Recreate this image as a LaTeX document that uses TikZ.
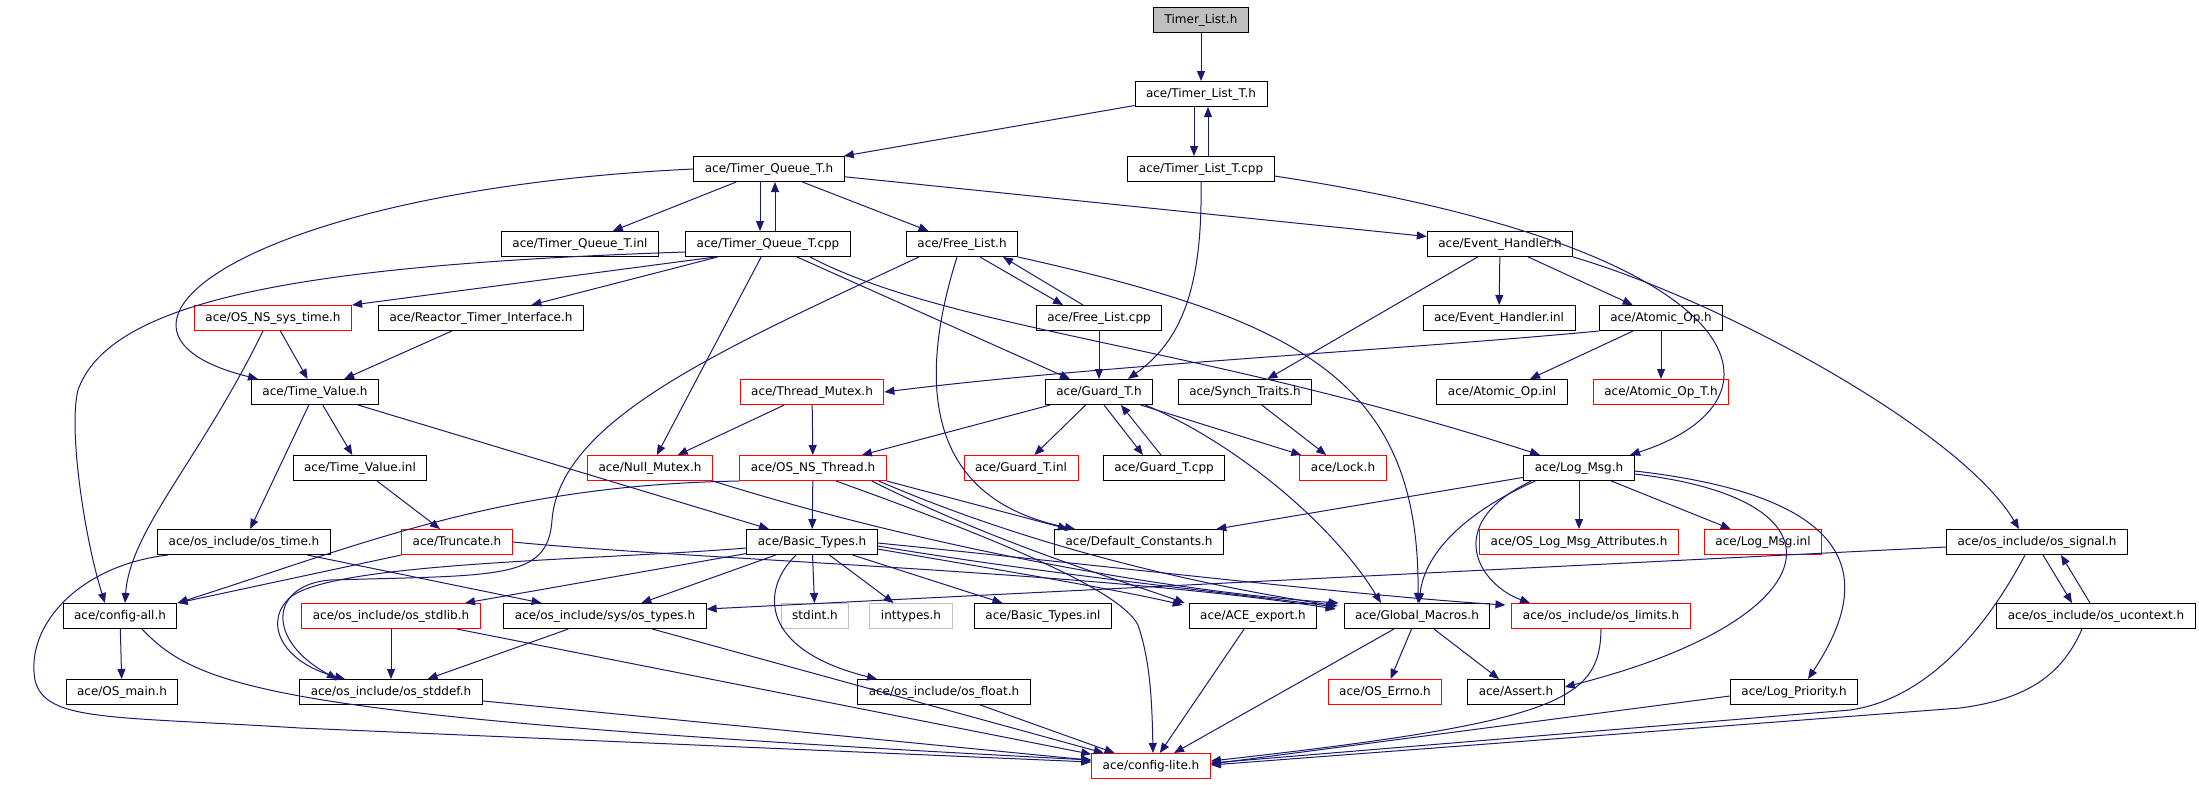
\documentclass[tikz,border=0pt]{standalone}
\usepackage{fontspec}
\setmainfont{DejaVu Sans}
\usetikzlibrary{arrows.meta,calc}
\definecolor{edgeblue}{HTML}{191970}
\definecolor{sysgray}{HTML}{BFBFBF}
\tikzset{
  file/.style={draw=black, line width=0.5pt, inner xsep=5.5pt, inner ysep=0pt,
    minimum height=12.5pt, text height=4.6pt, text depth=1.4pt,
    font=\fontsize{6pt}{7pt}\selectfont},
  cutfile/.style={file, draw=red},
  sysfile/.style={file, draw=sysgray},
  rootfile/.style={file, fill=sysgray},
  dep/.style={draw=edgeblue, line width=0.5pt, -{Triangle[length=5pt,width=4pt]}}
}
\begin{document}
\begin{tikzpicture}[x=0.5pt, y=-0.5pt]
\useasboundingbox (0,0) rectangle (2199,784);
% files, row by row
\node[rootfile] (tl) at (1201,20) {Timer\_List.h};
\node[file] (tlth) at (1201,94) {ace/Timer\_List\_T.h};
\node[file] (tqth) at (769,169) {ace/Timer\_Queue\_T.h};
\node[file] (tltcpp) at (1201,169) {ace/Timer\_List\_T.cpp};
\node[file] (tqtinl) at (580,244) {ace/Timer\_Queue\_T.inl};
\node[file] (tqtcpp) at (768,244) {ace/Timer\_Queue\_T.cpp};
\node[file] (flh) at (962,244) {ace/Free\_List.h};
\node[file] (ehh) at (1500,244) {ace/Event\_Handler.h};
\node[cutfile] (nssys) at (273,318) {ace/OS\_NS\_sys\_time.h};
\node[file] (rti) at (481,318) {ace/Reactor\_Timer\_Interface.h};
\node[file] (flcpp) at (1099,318) {ace/Free\_List.cpp};
\node[file] (ehinl) at (1499,318) {ace/Event\_Handler.inl};
\node[file] (aoh) at (1661,318) {ace/Atomic\_Op.h};
\node[file] (tvh) at (315,392) {ace/Time\_Value.h};
\node[cutfile] (tmh) at (812,392) {ace/Thread\_Mutex.h};
\node[file] (gth) at (1099,392) {ace/Guard\_T.h};
\node[file] (sth) at (1245,392) {ace/Synch\_Traits.h};
\node[file] (aoinl) at (1502,392) {ace/Atomic\_Op.inl};
\node[cutfile] (aoth) at (1661,392) {ace/Atomic\_Op\_T.h};
\node[file] (tvinl) at (360,468) {ace/Time\_Value.inl};
\node[cutfile] (nmh) at (650,468) {ace/Null\_Mutex.h};
\node[cutfile] (nsth) at (813,468) {ace/OS\_NS\_Thread.h};
\node[cutfile] (gtinl) at (1021,468) {ace/Guard\_T.inl};
\node[file] (gtcpp) at (1164,468) {ace/Guard\_T.cpp};
\node[cutfile] (lockh) at (1343,468) {ace/Lock.h};
\node[file] (lmh) at (1579,468) {ace/Log\_Msg.h};
\node[file] (ostime) at (244,542) {ace/os\_include/os\_time.h};
\node[cutfile] (trunc) at (457,542) {ace/Truncate.h};
\node[file] (bth) at (812,542) {ace/Basic\_Types.h};
\node[file] (dch) at (1139,542) {ace/Default\_Constants.h};
\node[cutfile] (olma) at (1579,542) {ace/OS\_Log\_Msg\_Attributes.h};
\node[cutfile] (lminl) at (1763,542) {ace/Log\_Msg.inl};
\node[file] (ossignal) at (2037,542) {ace/os\_include/os\_signal.h};
\node[file] (cah) at (120,616) {ace/config-all.h};
\node[cutfile] (osstdlib) at (391,616) {ace/os\_include/os\_stdlib.h};
\node[file] (ostypes) at (605,616) {ace/os\_include/sys/os\_types.h};
\node[sysfile] (stdint) at (815,616) {stdint.h};
\node[sysfile] (inttypes) at (911,616) {inttypes.h};
\node[file] (btinl) at (1043,616) {ace/Basic\_Types.inl};
\node[file] (aceexp) at (1253,616) {ace/ACE\_export.h};
\node[file] (gmh) at (1417,616) {ace/Global\_Macros.h};
\node[cutfile] (oslimits) at (1601,616) {ace/os\_include/os\_limits.h};
\node[file] (osucontext) at (2096,616) {ace/os\_include/os\_ucontext.h};
\node[file] (osmain) at (122,692) {ace/OS\_main.h};
\node[file] (osstddef) at (391,692) {ace/os\_include/os\_stddef.h};
\node[file] (osfloat) at (944,692) {ace/os\_include/os\_float.h};
\node[cutfile] (errno) at (1385,692) {ace/OS\_Errno.h};
\node[file] (assert) at (1516,692) {ace/Assert.h};
\node[file] (lph) at (1794,692) {ace/Log\_Priority.h};
\node[cutfile] (clh) at (1151,766) {ace/config-lite.h};
% timer list
\draw[dep] (tl) -- (tlth);
\draw[dep] (tlth) -- (tqth);
\draw[dep] ($(tlth.south)+(-7,0)$) -- ($(tltcpp.north)+(-7,0)$);
\draw[dep] ($(tltcpp.north)+(7,0)$) -- ($(tlth.south)+(7,0)$);
\draw[dep] (tltcpp.south) .. controls (1203,300) and (1175,345) .. ($(gth.north)+(29,0)$);
\draw[dep] ($(tltcpp.east)+(0,7)$) .. controls (1760,250) and (1800,400) .. ($(lmh.north)+(51,0)$);
% timer queue
\draw[dep] (tqth) -- (tqtinl);
\draw[dep] ($(tqth.south)+(-9,0)$) -- ($(tqtcpp.north)+(-8,0)$);
\draw[dep] ($(tqtcpp.north)+(7,0)$) -- ($(tqth.south)+(6,0)$);
\draw[dep] (tqth) -- (flh);
\draw[dep] (tqth) -- (ehh);
\draw[dep] (tqth.west) .. controls (250,190) and (60,330) .. ($(tvh.north)+(-57,0)$);
\draw[dep] ($(tqtcpp.west)+(0,8)$) .. controls (300,265) and (110,300) .. (78,390)
  .. controls (68,430) and (85,540) .. ($(cah.north)+(-15,0)$);
\draw[dep] ($(tqtcpp.south)+(-53,0)$) -- (nssys.north east);
\draw[dep] (tqtcpp) -- (rti);
\draw[dep] (tqtcpp) -- (nmh);
\draw[dep] (tqtcpp) -- (gth);
\draw[dep] ($(tqtcpp.south)+(42,0)$) .. controls (950,330) and (1200,345) .. ($(lmh.north)+(-39,0)$);
% free list
\draw[dep] ($(flh.south)+(18,0)$) -- ($(flcpp.north)+(-36,0)$);
\draw[dep] ($(flcpp.north)+(-16,0)$) -- ($(flh.south)+(41,0)$);
\draw[dep] (flcpp) -- (gth);
\draw[dep] (flh.south east) .. controls (1300,320) and (1420,380) .. ($(gmh.north)+(1,0)$);
\draw[dep] ($(flh.south)+(-5,0)$) .. controls (915,390) and (930,500) .. ($(dch.north)+(-64,0)$);
\draw[dep] ($(flh.south west)+(13,0)$) .. controls (720,350) and (560,420) .. (552,520)
  .. controls (548,580) and (500,575) .. (330,580)
  .. controls (270,585) and (265,640) .. ($(osstddef.north)+(-54,0)$);
% event handler
\draw[dep] (ehh) -- (ehinl);
\draw[dep] (ehh) -- (aoh);
\draw[dep] (ehh) -- (sth);
\draw[dep] (ehh.south east) .. controls (1720,300) and (1960,430) .. ($(ossignal.north)+(-18,0)$);
\draw[dep] (aoh.south west) .. controls (1400,350) and (1100,365) .. (tmh.east);
\draw[dep] (aoh) -- (aoinl);
\draw[dep] (aoh) -- (aoth);
% time value
\draw[dep] (nssys) -- (tvh);
\draw[dep] ($(nssys.south)+(-10,0)$) .. controls (200,460) and (130,530) .. ($(cah.north)+(5,0)$);
\draw[dep] (rti) -- (tvh);
\draw[dep] (tvh) -- (tvinl);
\draw[dep] (tvh) -- (ostime);
\draw[dep] (tvh) -- (bth);
\draw[dep] (tvinl) -- (trunc);
% mutex, guard
\draw[dep] (tmh) -- (nmh);
\draw[dep] (tmh) -- (nsth);
\draw[dep] (gth) -- (nsth);
\draw[dep] (gth) -- (gtinl);
\draw[dep] ($(gth.south)+(5,0)$) -- ($(gtcpp.north)+(-21,0)$);
\draw[dep] ($(gtcpp.north)+(-3,0)$) -- ($(gth.south)+(22,0)$);
\draw[dep] (gth) -- (lockh);
\draw[dep] ($(gth.south east)+(-8,0)$) .. controls (1230,440) and (1330,520) .. ($(gmh.north)+(-36,0)$);
\draw[dep] (sth) -- (lockh);
\draw[dep] (nmh.south east) .. controls (900,540) and (1150,590) .. ($(gmh.north west)+(-5,0)$);
% os thread
\draw[dep] (nsth) -- (bth);
\draw[dep] (nsth.south east) -- ($(dch.north)+(-71,0)$);
\draw[dep] (nsth.south west) .. controls (500,485) and (360,545) .. (cah.north east);
\draw[dep] ($(nsth.south east)+(-15,0)$) .. controls (1000,545) and (1120,580) .. ($(aceexp.north west)+(-4,0)$);
\draw[dep] ($(nsth.south east)+(-8,0)$) .. controls (1050,555) and (1230,590) .. ($(gmh.north west)+(-6,3)$);
\draw[dep] ($(nsth.south)+(23,0)$) .. controls (1000,540) and (1120,590) .. (1138,625)
  .. controls (1150,660) and (1152,700) .. ($(clh.north)+(2,0)$);
% os time, truncate
\draw[dep] (ostime) -- (ostypes);
\draw[dep] ($(ostime.south west)+(11,0)$) .. controls (80,565) and (25,625) .. (35,680)
  .. controls (45,722) and (110,716) .. (300,728) -- ($(clh.west)+(0,-4)$);
\draw[dep] (trunc.south west) -- (cah.north east);
\draw[dep] (trunc.east) .. controls (700,560) and (1100,572) .. ($(gmh.north west)+(-8,6)$);
% basic types
\draw[dep] (bth) -- (osstdlib);
\draw[dep] (bth) -- (ostypes);
\draw[dep] (bth) -- (stdint);
\draw[dep] (bth) -- (inttypes);
\draw[dep] (bth) -- (btinl);
\draw[dep] ($(bth.south)+(-16,0)$) .. controls (760,590) and (760,650) .. ($(osfloat.north)+(-67,0)$);
\draw[dep] ($(bth.west)+(0,6)$) .. controls (600,560) and (340,562) .. (292,596)
  .. controls (262,620) and (280,662) .. ($(osstddef.north)+(-46,0)$);
\draw[dep] ($(bth.east)+(0,7)$) .. controls (1000,570) and (1120,590) .. ($(aceexp.north west)+(-6,2)$);
\draw[dep] ($(bth.east)+(0,4)$) .. controls (1050,575) and (1250,595) .. ($(gmh.north west)+(-8,4)$);
\draw[dep] ($(bth.east)+(0,1)$) .. controls (1100,565) and (1350,595) .. ($(oslimits.north west)+(-6,2)$);
% config and os includes
\draw[dep] (cah) -- (osmain);
\draw[dep] ($(cah.south)+(22,0)$) .. controls (200,690) and (280,718) .. ($(clh.west)+(0,-6)$);
\draw[dep] (osstdlib) -- (osstddef);
\draw[dep] (osstdlib) -- (clh);
\draw[dep] (ostypes) -- (osstddef);
\draw[dep] (ostypes) -- (clh);
\draw[dep] (osstddef) -- (clh);
\draw[dep] (osfloat) -- (clh);
\draw[dep] (aceexp) -- (clh);
\draw[dep] (gmh) -- (clh);
\draw[dep] (gmh) -- (errno);
\draw[dep] (gmh) -- (assert);
\draw[dep] (oslimits.south) .. controls (1600,700) and (1560,722) .. ($(clh.east)+(0,-5)$);
\draw[dep] ($(lph.west)+(0,4)$) -- ($(clh.east)+(0,-2)$);
% log msg
\draw[dep] (lmh) -- (dch);
\draw[dep] ($(lmh.south west)+(12,0)$) .. controls (1470,510) and (1425,550) .. ($(gmh.north)+(2,0)$);
\draw[dep] ($(lmh.south west)+(8,0)$) .. controls (1440,525) and (1480,585) .. ($(oslimits.north)+(-71,0)$);
\draw[dep] (lmh) -- (olma);
\draw[dep] (lmh) -- (lminl);
\draw[dep] ($(lmh.east)+(0,6)$) .. controls (1860,500) and (1830,620) .. ($(assert.east)+(0,-5)$);
\draw[dep] ($(lmh.east)+(0,3)$) .. controls (1890,500) and (1860,600) .. ($(lph.north)+(14,0)$);
% signal
\draw[dep] ($(ossignal.south)+(6,0)$) -- ($(osucontext.north)+(-24,0)$);
\draw[dep] ($(osucontext.north)+(-6,0)$) -- ($(ossignal.south)+(24,0)$);
\draw[dep] ($(ossignal.west)+(0,5)$) -- ($(ostypes.east)+(0,-7)$);
\draw[dep] ($(ossignal.south)+(-12,0)$) .. controls (1980,640) and (1920,700) .. (1850,710) -- ($(clh.east)+(0,-3)$);
\draw[dep] ($(osucontext.south)+(-14,0)$) .. controls (2060,680) and (2020,700) .. (1960,708) -- ($(clh.east)+(0,-1)$);
\end{tikzpicture}
\end{document}
